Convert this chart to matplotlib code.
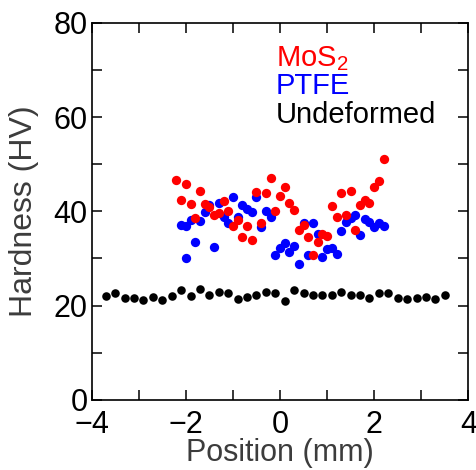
import matplotlib
matplotlib.use('Agg')
import matplotlib.pyplot as plt
from matplotlib.ticker import MultipleLocator

plt.rcParams['font.family'] = ['Liberation Sans', 'DejaVu Sans']
plt.rcParams['mathtext.fontset'] = 'custom'
plt.rcParams['mathtext.rm'] = 'Liberation Sans'

# hardness profiles across the section
x_undef = [-3.7, -3.5, -3.3, -3.1, -2.9, -2.7, -2.5, -2.3, -2.1, -1.9,
           -1.7, -1.5, -1.3, -1.1, -0.9, -0.7, -0.5, -0.3, -0.1, 0.1,
           0.3, 0.5, 0.7, 0.9, 1.1, 1.3, 1.5, 1.7, 1.9, 2.1,
           2.3, 2.5, 2.7, 2.9, 3.1, 3.3, 3.5]
hv_undef = [22.0, 22.6, 21.6, 21.7, 21.2, 21.9, 21.1, 22.0, 23.3, 22.0,
            23.6, 22.2, 23.0, 22.6, 21.4, 21.9, 22.2, 23.0, 22.7, 20.9,
            23.3, 22.6, 22.3, 22.3, 22.2, 22.8, 22.3, 22.3, 21.6, 22.6,
            22.6, 21.6, 21.4, 21.6, 21.8, 21.4, 22.2]

x_mos2 = [-2.2, -2.1, -2.0, -1.9, -1.8, -1.7, -1.6, -1.5, -1.4, -1.3,
          -1.2, -1.1, -1.0, -0.9, -0.8, -0.7, -0.6, -0.5, -0.4, -0.3,
          -0.2, -0.1, 0.0, 0.1, 0.2, 0.3, 0.4, 0.5, 0.6, 0.7,
          0.8, 0.9, 1.0, 1.1, 1.2, 1.3, 1.4, 1.5, 1.6, 1.7,
          1.8, 1.9, 2.0, 2.1, 2.2]
hv_mos2 = [46.6, 42.5, 45.7, 41.6, 38.5, 44.4, 41.6, 41.0, 39.2, 39.6,
           42.1, 40.0, 36.8, 38.2, 34.5, 36.9, 33.9, 44.1, 37.5, 43.9,
           47.1, 40.1, 43.3, 45.2, 41.8, 40.2, 36.0, 37.0, 34.5, 30.8,
           33.4, 35.3, 34.7, 41.1, 38.9, 43.8, 39.2, 44.3, 36.1, 41.3,
           42.5, 41.7, 45.1, 46.5, 51.0]

x_ptfe = [-2.1, -2.0, -2.0, -1.9, -1.8, -1.7, -1.6, -1.5, -1.4, -1.3,
          -1.2, -1.1, -1.0, -0.9, -0.8, -0.7, -0.6, -0.5, -0.4, -0.3,
          -0.2, -0.1, 0.0, 0.1, 0.2, 0.3, 0.4, 0.5, 0.6, 0.7,
          0.8, 0.9, 1.0, 1.1, 1.2, 1.3, 1.4, 1.5, 1.6, 1.7,
          1.8, 1.9, 2.0, 2.1, 2.2]
hv_ptfe = [37.1, 36.9, 30.0, 38.2, 33.6, 38.0, 39.9, 41.3, 32.4, 41.7,
           38.7, 37.5, 43.0, 38.7, 41.3, 40.4, 39.9, 43.1, 36.7, 40.0,
           38.7, 30.7, 32.2, 33.2, 31.3, 32.6, 28.8, 37.6, 30.8, 37.5,
           35.3, 30.3, 32.0, 32.2, 30.9, 35.9, 37.8, 38.5, 39.2, 35.0,
           38.3, 37.8, 36.6, 37.5, 36.9]

fig = plt.figure(figsize=(4.76, 4.70), dpi=100)
ax = fig.add_axes([0.1926, 0.149, 0.7914, 0.8027])

ax.scatter(x_undef, hv_undef, s=38, color='black', linewidths=0, zorder=3)
ax.scatter(x_ptfe, hv_ptfe, s=45, color='#0000ff', linewidths=0, zorder=3)
ax.scatter(x_mos2, hv_mos2, s=45, color='#ff0000', linewidths=0, zorder=4)

ax.set_xlim(-4, 4)
ax.set_ylim(0, 80)
ax.xaxis.set_major_locator(MultipleLocator(2))
ax.xaxis.set_minor_locator(MultipleLocator(1))
ax.yaxis.set_major_locator(MultipleLocator(20))
ax.yaxis.set_minor_locator(MultipleLocator(10))
ax.tick_params(which='both', direction='in', top=True, right=True,
               length=7, width=1.1, labelsize=22)
ax.tick_params(axis='x', pad=7)
ax.tick_params(axis='y', pad=3)
for sp in ax.spines.values():
    sp.set_linewidth(1.2)

ax.set_xlabel('Position (mm)', fontsize=22, color='#3c3c3c', labelpad=-1)
ax.set_ylabel('Hardness (HV)', fontsize=23, color='#3c3c3c', labelpad=10)

ax.text(0.489, 0.906, r'MoS$\mathregular{_2}$', color='#ff0000', fontsize=21,
        transform=ax.transAxes, va='center', ha='left')
ax.text(0.489, 0.831, 'PTFE', color='#0000ff', fontsize=21,
        transform=ax.transAxes, va='center', ha='left')
ax.text(0.489, 0.756, 'Undeformed', color='black', fontsize=21,
        transform=ax.transAxes, va='center', ha='left')

fig.savefig('out.png', dpi=100)
